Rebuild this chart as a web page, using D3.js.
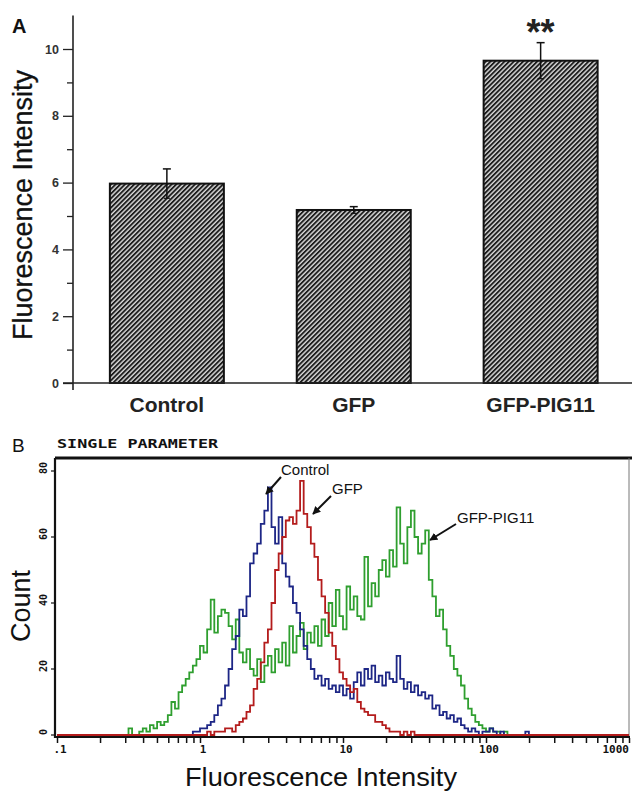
<!DOCTYPE html>
<html>
<head>
<meta charset="utf-8">
<script src="https://cdn.jsdelivr.net/npm/d3@7"></script>
<style>
  body { margin: 0; background: #fff; }
  svg { display: block; }
  text { font-family: "Liberation Sans", Arial, sans-serif; }
  .mono { font-family: "DejaVu Sans Mono", "Liberation Mono", monospace; font-weight: bold; }
</style>
</head>
<body>
<svg id="chart" width="632" height="793"></svg>
<script>
// ---- Panel A data: mean fluorescence intensity
const barCategories = ["Control", "GFP", "GFP-PIG11"];
const barValues = [5.97, 5.18, 9.65];
const barErrors = [0.44, 0.10, 0.54];
const barYTicks = [0, 2, 4, 6, 8, 10];

// ---- Panel B data: flow cytometry histograms, 40 channels per decade starting at 0.1
const CH_PER_DECADE = 40;
const pigStart = 19;
const pigCounts = [0, 2, 0, 0, 1, 2, 1, 3, 2, 4, 3, 4, 6, 10, 8, 13, 15, 17, 19, 21,
  23, 27, 25, 32, 41, 31, 36, 38, 37, 33, 29, 35, 25, 22, 26, 20, 18, 23, 16, 21,
  24, 19, 26, 22, 28, 21, 33, 25, 30, 34, 26, 31, 28, 33, 27, 35, 30, 40, 33, 44,
  36, 32, 45, 38, 42, 36, 35, 54, 39, 46, 42, 50, 53, 48, 56, 51, 69, 58, 52, 63,
  68, 60, 55, 58, 62, 47, 42, 36, 38, 32, 27, 24, 20, 18, 15, 11, 8, 6, 4, 3,
  2, 1, 2, 1, 1, 0, 1];
const controlStart = 38;
const controlCounts = [1, 1, 2, 2, 3, 4, 6, 9, 11, 15, 20, 26, 30, 38, 36, 42, 52, 55, 58, 64,
  68, 75, 63, 58, 66, 52, 48, 45, 40, 37, 32, 27, 23, 20, 17, 18, 15, 17, 14, 15,
  13, 15, 12, 14, 11, 16, 19, 15, 20, 17, 21, 16, 18, 15, 19, 17, 16, 24, 17, 14,
  16, 13, 15, 12, 13, 11, 12, 8, 9, 6, 7, 5, 6, 4, 5, 3, 2, 1, 2, 1,
  0, 1, 1, 2, 1, 0, 1, 0, 0, 0, 0, 0, 0, 1];
const gfpStart = 42;
const gfpCounts = [1, 0, 1, 1, 1, 2, 2, 1, 3, 4, 5, 7, 9, 14, 17, 22, 28, 32, 40, 50,
  55, 60, 65, 66, 64, 68, 77, 67, 63, 58, 54, 47, 42, 37, 31, 27, 23, 19, 17, 15,
  13, 14, 10, 8, 7, 6, 6, 4, 4, 3, 2, 1, 1, 1, 0, 1, 0, 1];
const histYTicks = [0, 20, 40, 60, 80];
const histXMajor = [0.1, 1, 10, 100, 1000];
const histXLabels = [".1", "1", "10", "100", "1000"];

const svg = d3.select("#chart");

// ================= Panel A =================
const yA = d3.scaleLinear().domain([0, 10]).range([383, 49]);
const xA = d3.scaleBand().domain(barCategories).range([72.5, 635]).paddingInner(0.39).paddingOuter(0.2);

// hatch pattern for bars
const defs = svg.append("defs");
const pat = defs.append("pattern")
  .attr("id", "hatch").attr("patternUnits", "userSpaceOnUse")
  .attr("width", 3.3).attr("height", 3.3)
  .attr("patternTransform", "rotate(45)");
pat.append("rect").attr("width", 3.3).attr("height", 3.3).attr("fill", "#dcdcdc");
pat.append("rect").attr("x", 0).attr("width", 1.9).attr("height", 3.3).attr("fill", "#1e1e1e");

const gA = svg.append("g");

gA.selectAll("rect.bar")
  .data(barValues)
  .enter().append("rect")
  .attr("class", "bar")
  .attr("x", (d, i) => xA(barCategories[i]))
  .attr("width", xA.bandwidth())
  .attr("y", d => yA(d))
  .attr("height", d => yA(0) - yA(d))
  .attr("fill", "url(#hatch)")
  .attr("stroke", "#111").attr("stroke-width", 2);

// error bars
const errG = gA.selectAll("g.err").data(barValues).enter().append("g").attr("class", "err");
errG.append("line")
  .attr("x1", (d, i) => xA(barCategories[i]) + xA.bandwidth() / 2)
  .attr("x2", (d, i) => xA(barCategories[i]) + xA.bandwidth() / 2)
  .attr("y1", (d, i) => yA(d - barErrors[i]))
  .attr("y2", (d, i) => yA(d + barErrors[i]))
  .attr("stroke", "#111").attr("stroke-width", 1.5);
errG.append("line")
  .attr("x1", (d, i) => xA(barCategories[i]) + xA.bandwidth() / 2 - 4)
  .attr("x2", (d, i) => xA(barCategories[i]) + xA.bandwidth() / 2 + 4)
  .attr("y1", (d, i) => yA(d + barErrors[i]))
  .attr("y2", (d, i) => yA(d + barErrors[i]))
  .attr("stroke", "#111").attr("stroke-width", 1.5);
errG.append("line")
  .attr("x1", (d, i) => xA(barCategories[i]) + xA.bandwidth() / 2 - 3)
  .attr("x2", (d, i) => xA(barCategories[i]) + xA.bandwidth() / 2 + 3)
  .attr("y1", (d, i) => yA(d - barErrors[i]))
  .attr("y2", (d, i) => yA(d - barErrors[i]))
  .attr("stroke", "#111").attr("stroke-width", 1.2);

// axes
const yAxisMinor = gA.append("g").attr("transform", "translate(73,0)")
  .call(d3.axisLeft(yA).tickValues(d3.range(1, 11, 2)).tickSize(6).tickFormat(""));
const yAxisMajor = gA.append("g").attr("transform", "translate(73,0)")
  .call(d3.axisLeft(yA).tickValues(barYTicks).tickSize(10).tickPadding(4).tickFormat(d3.format("d")));
yAxisMajor.select(".domain").remove();
yAxisMinor.select(".domain").remove();
gA.selectAll(".tick line").attr("stroke", "#222").attr("stroke-width", 1.3);
yAxisMajor.selectAll("text").attr("font-size", 12.5).attr("font-weight", "bold").attr("fill", "#333");

gA.append("line").attr("x1", 73).attr("x2", 73).attr("y1", yA(11)).attr("y2", yA(0) + 7)
  .attr("stroke", "#222").attr("stroke-width", 1.6);
gA.append("line").attr("x1", 63).attr("x2", 632).attr("y1", yA(0)).attr("y2", yA(0))
  .attr("stroke", "#222").attr("stroke-width", 1.6);

gA.selectAll("text.cat")
  .data(barCategories)
  .enter().append("text")
  .attr("class", "cat")
  .attr("x", d => xA(d) + xA.bandwidth() / 2)
  .attr("y", 412)
  .attr("text-anchor", "middle")
  .attr("font-size", 21).attr("font-weight", "bold").attr("fill", "#222")
  .text(d => d);

gA.append("text")
  .attr("x", xA("GFP-PIG11") + xA.bandwidth() / 2).attr("y", 45)
  .attr("text-anchor", "middle").attr("font-size", 36).attr("font-weight", "bold")
  .attr("fill", "#222").text("**");

gA.append("text")
  .attr("transform", "translate(32,205) rotate(-90)")
  .attr("text-anchor", "middle").attr("font-size", 27).attr("fill", "#111")
  .attr("stroke", "#111").attr("stroke-width", 0.3)
  .text("Fluorescence Intensity");

gA.append("text").attr("x", 12).attr("y", 33)
  .attr("font-size", 20).attr("font-weight", "bold").attr("fill", "#111").text("A");

// ================= Panel B =================
const xB = d3.scaleLog().domain([0.1, 1000]).range([57, 629]);
const yB = d3.scaleLinear().domain([0, 80]).range([735, 471]);
const gB = svg.append("g");

// frame (drawn below the histograms so the green baseline shows)
gB.append("line").attr("x1", 55).attr("x2", 632).attr("y1", 458).attr("y2", 458)
  .attr("stroke", "#111").attr("stroke-width", 3);
gB.append("line").attr("x1", 55).attr("x2", 55).attr("y1", 458).attr("y2", 738)
  .attr("stroke", "#111").attr("stroke-width", 2.2);
gB.append("line").attr("x1", 629).attr("x2", 629).attr("y1", 458).attr("y2", 737)
  .attr("stroke", "#777").attr("stroke-width", 1);
gB.append("line").attr("x1", 55).attr("x2", 630).attr("y1", 737).attr("y2", 737)
  .attr("stroke", "#111").attr("stroke-width", 2);

const chanValue = k => 0.1 * Math.pow(10, k / CH_PER_DECADE);

function histPoints(start, counts) {
  const pts = [[0.1, 0]];
  counts.forEach((c, i) => pts.push([chanValue(start + i), c]));
  pts.push([chanValue(start + counts.length), 0]);
  pts.push([1000, 0]);
  return pts;
}

const stepLine = d3.line()
  .x(d => xB(d[0]))
  .y(d => yB(d[1]))
  .curve(d3.curveStepAfter);

const series = [
  { name: "GFP-PIG11", start: pigStart, counts: pigCounts, color: "#2f9f2f" },
  { name: "Control", start: controlStart, counts: controlCounts, color: "#1d2686" },
  { name: "GFP", start: gfpStart, counts: gfpCounts, color: "#b41c1c" }
];

gB.selectAll("path.hist")
  .data(series)
  .enter().append("path")
  .attr("class", "hist")
  .attr("d", s => stepLine(histPoints(s.start, s.counts)))
  .attr("fill", "none")
  .attr("stroke", s => s.color)
  .attr("stroke-width", 1.8);

// x ticks
const minorVals = [];
histXMajor.slice(0, -1).forEach(m => { for (let j = 2; j <= 9; j++) minorVals.push(m * j); });
const xAxisB = gB.append("g").attr("transform", "translate(0,738)")
  .call(d3.axisBottom(xB).tickValues(minorVals.concat(histXMajor)).tickSize(5).tickFormat(""));
xAxisB.select(".domain").remove();
xAxisB.selectAll(".tick line").attr("stroke", "#111").attr("stroke-width", 1.5);

gB.selectAll("text.xl")
  .data(histXMajor)
  .enter().append("text")
  .attr("class", "xl mono")
  .attr("x", (d, i) => i === histXMajor.length - 1 ? xB(d) : xB(d) + 3)
  .attr("y", 753)
  .attr("text-anchor", (d, i) => i === histXMajor.length - 1 ? "end" : "middle")
  .attr("font-size", 11).attr("fill", "#111")
  .text((d, i) => histXLabels[i]);

// y ticks
gB.selectAll("line.yt")
  .data(histYTicks)
  .enter().append("line")
  .attr("class", "yt")
  .attr("x1", 51).attr("x2", 55)
  .attr("y1", d => yB(d)).attr("y2", d => yB(d))
  .attr("stroke", "#111").attr("stroke-width", 1.2);
gB.selectAll("text.yl")
  .data(histYTicks)
  .enter().append("text")
  .attr("class", "yl mono")
  .attr("transform", d => `translate(47,${yB(d) - 3}) rotate(-90)`)
  .attr("text-anchor", "middle")
  .attr("font-size", 10).attr("fill", "#111")
  .text(d => d);

// titles
gB.append("text").attr("x", 12).attr("y", 452)
  .attr("font-size", 19).attr("fill", "#111").text("B");
gB.append("text").attr("class", "mono").attr("x", 57).attr("y", 448)
  .attr("font-size", 12).attr("textLength", 161).attr("lengthAdjust", "spacingAndGlyphs")
  .attr("fill", "#111").text("SINGLE PARAMETER");
gB.append("text")
  .attr("transform", "translate(30,606) rotate(-90)")
  .attr("text-anchor", "middle").attr("font-size", 27).attr("fill", "#111")
  .text("Count");
gB.append("text")
  .attr("x", 321).attr("y", 786)
  .attr("text-anchor", "middle").attr("font-size", 25).attr("fill", "#111")
  .attr("textLength", 272).attr("lengthAdjust", "spacingAndGlyphs")
  .text("Fluorescence Intensity");

// annotations with arrows
defs.append("marker")
  .attr("id", "arrow").attr("viewBox", "0 0 10 10")
  .attr("refX", 9).attr("refY", 5)
  .attr("markerWidth", 4).attr("markerHeight", 4)
  .attr("orient", "auto")
  .append("path").attr("d", "M0,0 L10,5 L0,10 z").attr("fill", "#111");

const annotations = [
  { text: "Control", tx: 281, ty: 475, from: [281, 477], to: [266, 494] },
  { text: "GFP", tx: 332, ty: 494, from: [331, 496], to: [313, 514] },
  { text: "GFP-PIG11", tx: 457, ty: 523, from: [456, 524], to: [430, 540] }
];
gB.selectAll("line.ann")
  .data(annotations)
  .enter().append("line")
  .attr("class", "ann")
  .attr("x1", d => d.from[0]).attr("y1", d => d.from[1])
  .attr("x2", d => d.to[0]).attr("y2", d => d.to[1])
  .attr("stroke", "#111").attr("stroke-width", 2)
  .attr("marker-end", "url(#arrow)");
gB.selectAll("text.ann")
  .data(annotations)
  .enter().append("text")
  .attr("class", "ann")
  .attr("x", d => d.tx).attr("y", d => d.ty)
  .attr("font-size", 15).attr("fill", "#111")
  .text(d => d.text);
</script>
</body>
</html>
